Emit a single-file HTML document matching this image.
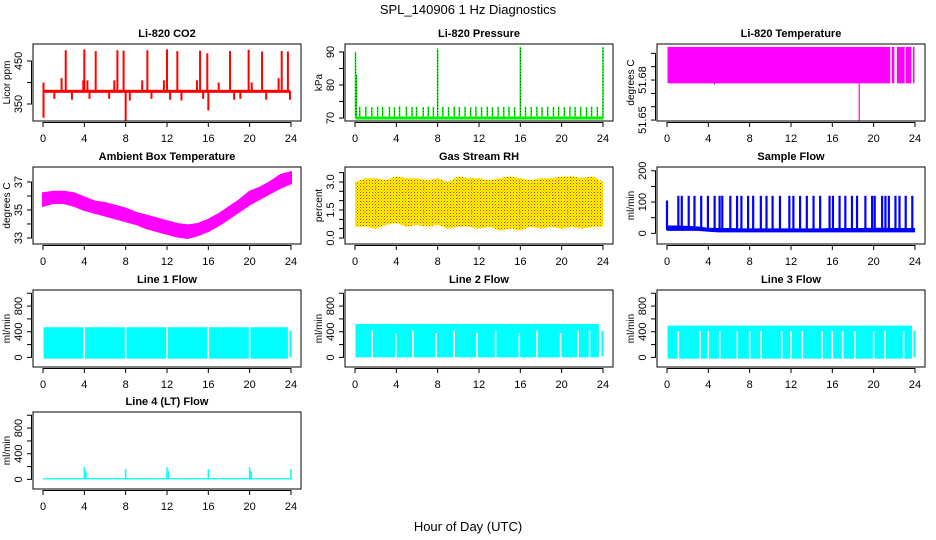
<!DOCTYPE html>
<html><head><meta charset="utf-8"><style>
html,body{margin:0;padding:0;background:#fff;}
svg{display:block;font-family:"Liberation Sans",Arial,sans-serif;}
</style></head><body>
<svg id="chart" width="936" height="540" viewBox="0 0 936 540">
<defs>
<pattern id="rhpat" width="3" height="3" patternUnits="userSpaceOnUse">
<rect width="3" height="3" fill="#ffff00"/><rect x="0" y="0" width="1" height="1" fill="#ff2000"/><rect x="1.5" y="1.5" width="1" height="1" fill="#ff6000"/>
</pattern>
</defs>
<text x="468" y="14" text-anchor="middle" font-size="13">SPL_140906  1 Hz Diagnostics</text>
<text x="468" y="531" text-anchor="middle" font-size="13">Hour of Day (UTC)</text>
</svg>
<script>
const xTicks = [0,4,8,12,16,20,24];
// CO2
const co2Base = [376, 383];
const co2Hours = [0.05,0.05,1.1,1.8,2.2,2.8,3.9,4.0,4.3,4.5,5.1,6.4,6.9,7.2,7.8,8.0,8.4,9.6,10.1,10.5,11.7,12.0,12.3,13.0,13.4,14.9,15.2,15.5,15.9,16.0,17.0,18.1,18.5,19.1,19.9,20.2,21.2,21.6,22.8,23.1,23.7,23.9];
const co2Vals  = [400,318,362,410,475,360,405,477,405,362,473,362,405,475,474,310,358,405,475,362,405,477,360,473,358,405,474,362,468,335,400,473,360,362,476,400,472,360,410,473,472,360];
// Pressure
const presBase = 70;
const presSpikeHours = [0.46,1.05,1.63,2.19,2.68,3.33,3.82,4.31,4.97,5.52,5.95,6.6,7.09,7.58,8.5,9.05,9.6,10.1,10.65,11.2,11.7,12.25,12.8,13.3,13.85,14.4,14.9,15.45,16.5,17.05,17.6,18.1,18.65,19.2,19.7,20.25,20.8,21.3,21.85,22.4,22.9,23.45];
const presSpikeVals = [73.5,73.5,73.3,73.5,73.4,73.5,73.3,73.6,73.5,73.4,73.5,73.3,73.5,73.4,73.5,73.3,73.5,73.4,73.5,73.3,73.5,73.4,73.5,73.3,73.5,73.4,73.5,73.3,73.5,73.4,73.5,73.3,73.5,73.4,73.5,73.3,73.5,73.4,73.5,73.3,73.5,73.4];
const presTallHours = [0.05,0.12,8.0,16.0,24.0];
const presTallVals = [90,83,91,91.5,91.5];
// Li-820 temperature
const ltSegStart = [0.05,21.75,22.25,23.1,23.8];
const ltSegEnd   = [21.6,22.0,23.0,23.65,23.95];
const ltLo = 51.6775, ltHi = 51.7048;
const ltDipHours = [4.6,18.6];
const ltDipVals = [51.6765,51.6495];
// Ambient temp
const ambHours = [0,1,2,3,4,5,6,7,8,9,10,11,12,13,14,15,16,17,18,19,20,21,22,23,24];
const ambLo = [35.3,35.5,35.5,35.3,35.0,34.8,34.6,34.4,34.2,34.0,33.7,33.5,33.3,33.1,33.0,33.2,33.5,33.9,34.4,34.9,35.4,35.8,36.2,36.6,36.9];
const ambHi = [36.2,36.3,36.3,36.2,35.9,35.6,35.5,35.3,35.1,34.8,34.6,34.4,34.2,34.0,33.9,34.0,34.3,34.7,35.2,35.7,36.3,36.6,37.0,37.5,37.7];
// RH
const rhLo = [0.6,0.6,0.5,0.7,0.8,0.6,0.7,0.6,0.7,0.5,0.6,0.6,0.5,0.6,0.4,0.5,0.4,0.6,0.5,0.6,0.5,0.6,0.5,0.6,0.6];
const rhHi = [3.0,3.2,3.2,3.1,3.3,3.2,3.2,3.1,3.2,3.0,3.3,3.2,3.2,3.1,3.2,3.3,3.2,3.1,3.2,3.2,3.3,3.3,3.2,3.3,3.0];
// Sample flow
const sfLo = [8,8,8,8,5,3,3,3,3,3,3,3,3,3,3,3,3,3,3,3,3,3,3,3,3];
const sfHi = [25,25,24,22,18,17,17,16,16,16,16,16,16,16,16,16,17,17,17,17,18,18,17,17,17];
const sfSpikeHours = [0,1.1,1.43,2.1,2.66,3.31,3.96,4.61,5.09,5.35,6.13,6.78,7.2,7.85,8.34,9.08,9.63,10.22,10.93,11.84,12.23,12.88,13.53,14.18,14.82,15.73,16.06,16.7,17.26,17.9,18.39,19.2,19.85,20.1,20.82,21.14,21.47,22.11,22.5,23.1,23.74];
const sfSpikeVals = [105,120,120,120,120,120,120,120,120,120,120,120,120,120,120,120,120,120,120,120,120,120,120,120,120,120,120,120,120,120,120,120,120,120,120,120,120,120,120,120,120];
// Line flows
const l1Range = [-20, 470], l1End = 23.7;
const l1GapHours = [4.0,8.0,12.0,16.0,20.0];
const l1GapTops = [480,480,480,480,480];
const l2Range = [0, 520], l2End = 23.6;
const l2GapHours = [1.66,3.95,5.6,7.85,9.6,11.8,13.6,15.9,17.6,19.9,21.6,22.7];
const l2GapTops = [420,380,420,380,420,380,420,380,420,380,420,420];
const l3Range = [-20, 495], l3End = 23.7;
const l3GapHours = [1.1,3.2,4.0,5.1,6.8,8.0,9.1,11.1,12.0,13.1,15.0,16.0,17.0,18.2,20.0,21.1,22.9];
const l3GapTops = [410,410,410,410,410,410,410,410,410,410,410,410,410,410,410,410,410];
const l4Base = [0, 20];
const l4SpikeHours = [4.0,4.15,8.0,12.0,12.15,16.0,20.0,20.15,24.0];
const l4SpikeVals = [190,130,160,190,130,160,190,130,160];

const NS = "http://www.w3.org/2000/svg";
const svg = document.getElementById('chart');
function mk(tag, attrs, parent){ const e=document.createElementNS(NS,tag); for(const k in attrs) e.setAttribute(k,attrs[k]); (parent||svg).appendChild(e); return e; }

const colL = [33,345,657], rowT = [44,167,290,412], BW = 268, BH = 77;
function panel(col,row,title,ylab,dom,ticks,labels,name){
  const L=colL[col], T=rowT[row], B=T+BH, R=L+BW;
  const g = mk('g',{});
  
  
  const x = h => L+10 + h/24*248;
  const y = v => B - (v-dom[0])/(dom[1]-dom[0])*BH;
  const plot = mk('g',{},g);
  
  
  const box = mk('rect',{x:L,y:T,width:BW,height:BH,fill:'none',stroke:'#000','stroke-width':1},g);
  
  
  const t = mk('text',{x:(L+R)/2,y:T-7,'text-anchor':'middle','font-size':11,'font-weight':'bold'},g);
  t.textContent=title;
  
  
  const xa = mk('g',{},g);
  
  
  mk('line',{x1:x(0),x2:x(24),y1:B+1.5,y2:B+1.5,stroke:'#000'},xa);
  xTicks.forEach(h=>{
    mk('line',{x1:x(h),x2:x(h),y1:B+1,y2:B+6,stroke:'#000'},xa);
    const tl=mk('text',{x:x(h),y:B+21,'text-anchor':'middle','font-size':11},xa);
    tl.textContent=h;
  });
  const ya = mk('g',{},g);
  
  
  mk('line',{x1:L-1.5,x2:L-1.5,y1:y(ticks[0]),y2:y(ticks[ticks.length-1]),stroke:'#000'},ya);
  ticks.forEach((v,i)=>{
    mk('line',{x1:L-6,x2:L-1,y1:y(v),y2:y(v),stroke:'#000'},ya);
    if(labels[i]){
      const tl=mk('text',{x:0,y:0,'text-anchor':'middle','font-size':11,transform:`translate(${L-11},${y(v)}) rotate(-90)`},ya);
      tl.textContent=labels[i];
    }
  });
  const yt=mk('text',{x:0,y:0,'text-anchor':'middle','font-size':10,transform:`translate(${L-23},${(T+B)/2}) rotate(-90)`},ya);
  yt.textContent=ylab;
  
  
  return {x,y,g:plot,L,T,B};
}
function vline(p,h,v1,v2,color,w){ return mk('line',{x1:p.x(h),x2:p.x(h),y1:p.y(v1),y2:p.y(v2),stroke:color,'stroke-width':w||1.2},p.g); }

// CO2
let p = panel(0,0,'Li-820 CO2','Licor ppm',[310.5,489.5],[350,400,450],['350','','450'],'co2');
co2Hours.forEach((h,i)=>{ const l=vline(p,h,380,co2Vals[i],'#ff0000',2);   });
mk('rect',{x:p.x(0.05),y:p.y(co2Base[1]),width:p.x(23.9)-p.x(0.05),height:p.y(co2Base[0])-p.y(co2Base[1]),fill:'#ff0000'},p.g);

// Pressure
p = panel(1,0,'Li-820 Pressure','kPa',[69.1,92.4],[70,75,80,85,90],['70','','80','','90'],'pressure');
presSpikeHours.forEach((h,i)=>{ const l=vline(p,h,presBase,presSpikeVals[i],'#00ee00',1.5);   vline(p,h,presBase,presSpikeVals[i],'#000',0.5).setAttribute('stroke-dasharray','1 2'); });
presTallHours.forEach((h,i)=>{ const l=vline(p,h,presBase,presTallVals[i],'#00ee00',1.5);   vline(p,h,presBase,presTallVals[i],'#000',0.6).setAttribute('stroke-dasharray','1 2'); });
mk('rect',{x:p.x(0.05),y:p.y(presBase)-1.5,width:p.x(24)-p.x(0.05),height:3,fill:'#00ee00'},p.g);

// Li-820 temp
p = panel(2,0,'Li-820 Temperature','degrees C',[51.6493,51.707],[51.65,51.66,51.67,51.68,51.69,51.70],['51.65','','','51.68','',''],'li820-temp');
ltSegStart.forEach((s,i)=>{ const r=mk('rect',{x:p.x(s),y:p.y(ltHi),width:p.x(ltSegEnd[i])-p.x(s),height:p.y(ltLo)-p.y(ltHi),fill:'#ff00ff'},p.g);   });
ltDipHours.forEach((h,i)=>{ const l=vline(p,h,ltLo,ltDipVals[i],'#ff00ff',1.2);   });

// Ambient
p = panel(0,1,'Ambient Box Temperature','degrees C',[32.57,38.07],[33,34,35,36,37],['33','','35','','37'],'ambient-temp');
{ let pts=[]; ambHours.forEach((h,i)=>pts.push(p.x(h)+','+p.y(ambHi[i]))); for(let i=ambHours.length-1;i>=0;i--) pts.push(p.x(ambHours[i])+','+p.y(ambLo[i]));
  const pg=mk('polygon',{points:pts.join(' '),fill:'#ff00ff',stroke:'#ff00ff','stroke-width':2},p.g);   }

// RH
p = panel(1,1,'Gas Stream RH','percent',[-0.32,3.8],[0,0.5,1,1.5,2,2.5,3,3.5],['0.0','','','1.5','','','3.0',''],'rh');
{ let pts=[]; ambHours.forEach((h,i)=>pts.push(p.x(h)+','+p.y(rhHi[i]))); for(let i=ambHours.length-1;i>=0;i--) pts.push(p.x(ambHours[i])+','+p.y(rhLo[i]));
  const pg=mk('polygon',{points:pts.join(' '),fill:'url(#rhpat)'},p.g);   }

// Sample flow
p = panel(2,1,'Sample Flow','ml/min',[-34,212],[0,50,100,150,200],['0','','100','','200'],'sample-flow');
sfSpikeHours.forEach((h,i)=>{ const l=vline(p,h,10,sfSpikeVals[i],'#0000ff',2.2);   });
{ let pts=[]; ambHours.forEach((h,i)=>pts.push(p.x(h)+','+p.y(sfHi[i]))); for(let i=ambHours.length-1;i>=0;i--) pts.push(p.x(ambHours[i])+','+p.y(sfLo[i]));
  mk('polygon',{points:pts.join(' '),fill:'#0000ff'},p.g); }

// Line flows
const flowTicks=[0,200,400,600,800,1000], flowLabels=['0','','400','','800',''];
function flowPanel(col,row,title,name,range,end,gh,gt){
  const q = panel(col,row,title,'ml/min',[-150,1051],flowTicks,flowLabels,name);
  const r=mk('rect',{x:q.x(0.05),y:q.y(range[1]),width:q.x(end)-q.x(0.05),height:q.y(range[0])-q.y(range[1]),fill:'#00ffff'},q.g);
   
  vline(q,23.95,range[0]+20,420,'#00ffff',2);
  gh.forEach((h,i)=>{ const l=vline(q,h,range[0]-10,gt[i],'#ffffff',1.6);   });
}
flowPanel(0,2,'Line 1 Flow','line1-flow',l1Range,l1End,l1GapHours,l1GapTops);
flowPanel(1,2,'Line 2 Flow','line2-flow',l2Range,l2End,l2GapHours,l2GapTops);
flowPanel(2,2,'Line 3 Flow','line3-flow',l3Range,l3End,l3GapHours,l3GapTops);

// Line 4
p = panel(0,3,'Line 4 (LT) Flow','ml/min',[-150,1051],flowTicks,flowLabels,'line4-flow');
mk('rect',{x:p.x(0),y:p.y(l4Base[1]),width:p.x(24)-p.x(0),height:p.y(l4Base[0])-p.y(l4Base[1]),fill:'#00ffff'},p.g);
l4SpikeHours.forEach((h,i)=>{ const l=vline(p,h,0,l4SpikeVals[i],'#00ffff',1.5);   });
</script>
</body></html>
